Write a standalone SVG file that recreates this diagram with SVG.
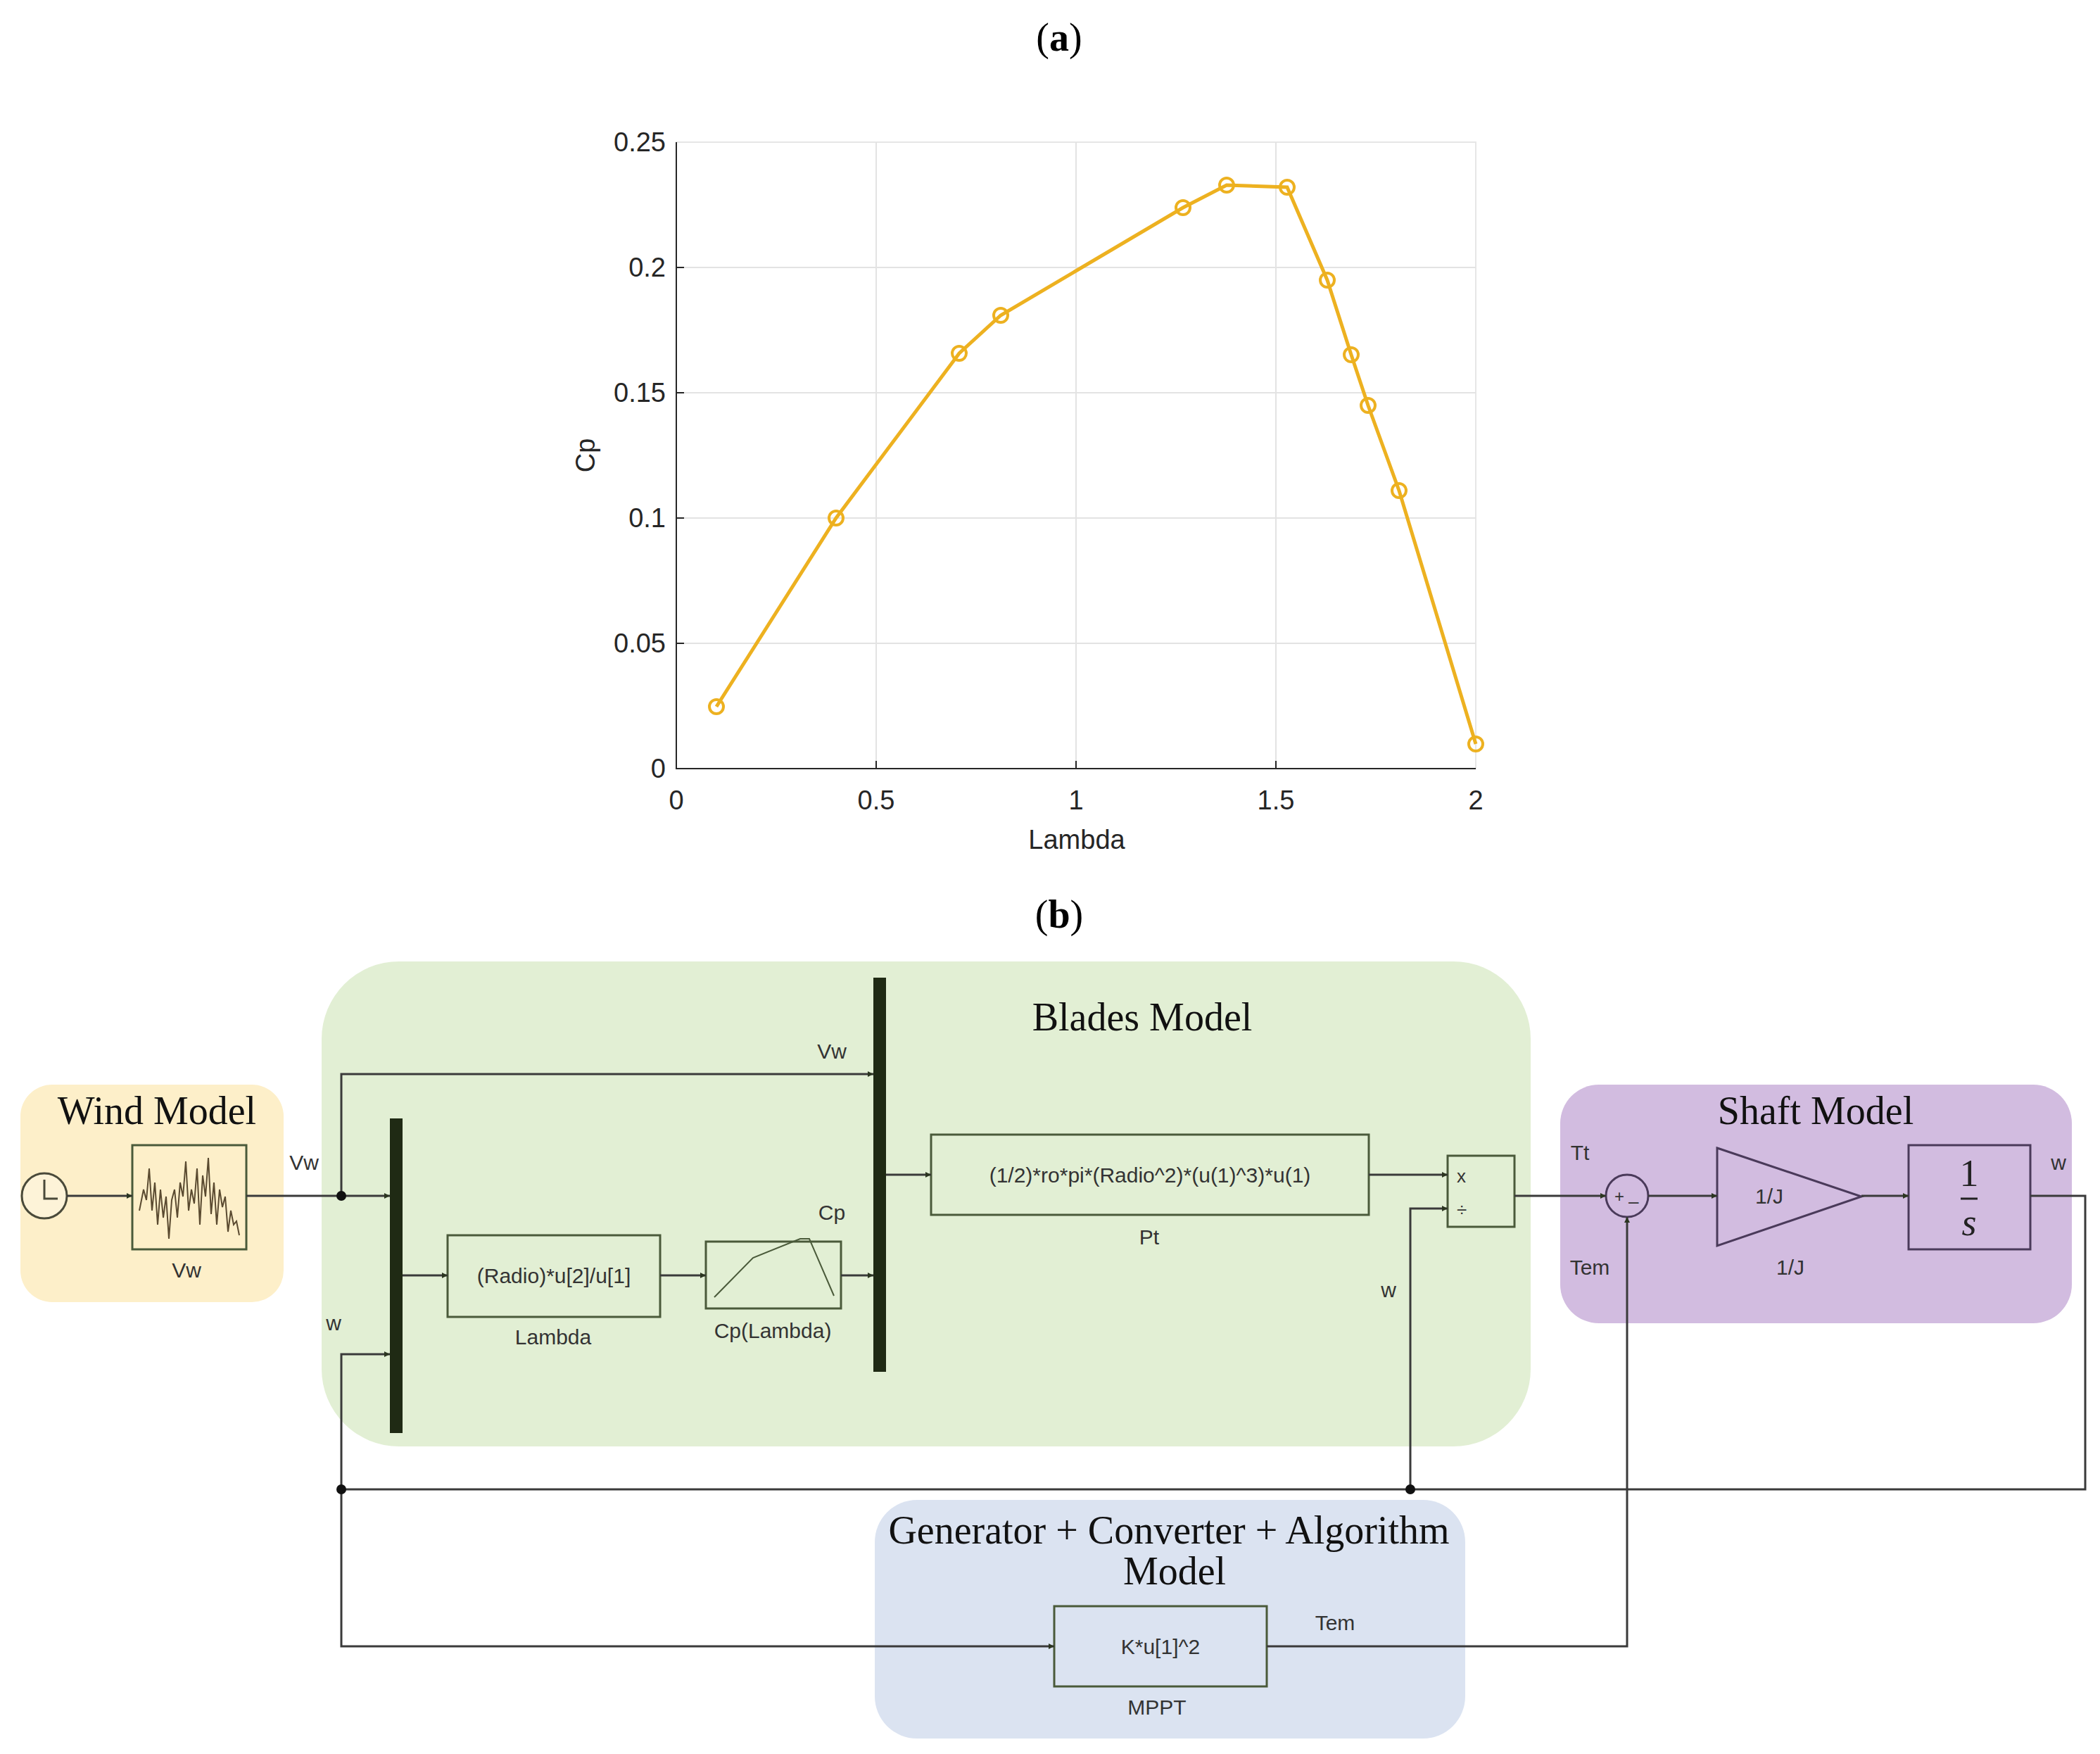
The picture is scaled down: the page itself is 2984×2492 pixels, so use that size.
<svg xmlns="http://www.w3.org/2000/svg" width="2984" height="2492" viewBox="0 0 2984 2492">
<style>
.t{font-family:"Liberation Sans",Arial,sans-serif;fill:#333}
.tick{font-family:"Liberation Sans",Arial,sans-serif;font-size:38px;fill:#262626}
.title{font-family:"Liberation Serif","Times New Roman",serif;font-size:56px;fill:#111}
.blk{fill:none;stroke:#4a5a3a;stroke-width:3}
.ln{fill:none;stroke:#3a3a3a;stroke-width:3}
.bus{fill:#1f2a14}
.grid{stroke:#e3e3e3;stroke-width:2}
</style>
<defs>
<marker id="ar" viewBox="0 0 10 10" refX="10" refY="5" markerWidth="8" markerHeight="8" markerUnits="userSpaceOnUse" orient="auto">
<path d="M0,0 L10,5 L0,10 z" fill="#2b3520"/>
</marker>
<marker id="a" viewBox="0 0 10 10" refX="10" refY="5" markerWidth="7" markerHeight="7" orient="auto">
<path d="M0,0 L10,5 L0,10 z" fill="#2b3520"/>
</marker>
</defs>
<rect width="2984" height="2492" fill="#fff"/>

<g id="chart">
<text x="1505" y="72" text-anchor="middle" style="font-family:'Liberation Serif',serif;font-size:56px;fill:#000"><tspan>(</tspan><tspan font-weight="bold">a</tspan><tspan>)</tspan></text>
<rect x="961" y="202" width="1136" height="890" fill="#fff" stroke="#e6e6e6" stroke-width="2"/>
<g class="grid">
<line x1="1245" y1="202" x2="1245" y2="1092"/><line x1="1529" y1="202" x2="1529" y2="1092"/><line x1="1813" y1="202" x2="1813" y2="1092"/>
<line x1="961" y1="914" x2="2097" y2="914"/><line x1="961" y1="736" x2="2097" y2="736"/><line x1="961" y1="558" x2="2097" y2="558"/><line x1="961" y1="380" x2="2097" y2="380"/>
</g>
<path d="M961,202 V1092 H2097" fill="none" stroke="#262626" stroke-width="2"/>
<g stroke="#262626" stroke-width="2">
<line x1="1245" y1="1092" x2="1245" y2="1081"/><line x1="1529" y1="1092" x2="1529" y2="1081"/><line x1="1813" y1="1092" x2="1813" y2="1081"/>
<line x1="961" y1="914" x2="972" y2="914"/><line x1="961" y1="736" x2="972" y2="736"/><line x1="961" y1="558" x2="972" y2="558"/><line x1="961" y1="380" x2="972" y2="380"/>
</g>
<g class="tick" text-anchor="end">
<text x="946" y="1105">0</text><text x="946" y="927">0.05</text><text x="946" y="749">0.1</text><text x="946" y="571">0.15</text><text x="946" y="393">0.2</text><text x="946" y="215">0.25</text>
</g>
<g class="tick" text-anchor="middle">
<text x="961" y="1150">0</text><text x="1245" y="1150">0.5</text><text x="1529" y="1150">1</text><text x="1813" y="1150">1.5</text><text x="2097" y="1150">2</text>
<text x="1530" y="1206">Lambda</text>
<text transform="translate(845,647) rotate(-90)">Cp</text>
</g>
<polyline fill="none" stroke="#EDB120" stroke-width="5" points="1018,1004 1188,736 1363,502 1422,448 1681,295 1743,263 1829,266 1886,398 1920,504 1944,576 1988,697 2097,1057"/>
<g fill="none" stroke="#EDB120" stroke-width="4">
<circle cx="1018" cy="1004" r="10"/><circle cx="1188" cy="736" r="10"/><circle cx="1363" cy="502" r="10"/><circle cx="1422" cy="448" r="10"/><circle cx="1681" cy="295" r="10"/><circle cx="1743" cy="263" r="10"/><circle cx="1829" cy="266" r="10"/><circle cx="1886" cy="398" r="10"/><circle cx="1920" cy="504" r="10"/><circle cx="1944" cy="576" r="10"/><circle cx="1988" cy="697" r="10"/><circle cx="2097" cy="1057" r="10"/>
</g>
</g>

<text x="1505" y="1318" text-anchor="middle" style="font-family:'Liberation Serif',serif;font-size:56px;fill:#000"><tspan>(</tspan><tspan font-weight="bold">b</tspan><tspan>)</tspan></text>

<g id="areas">
<rect x="457" y="1366" width="1718" height="689" rx="110" fill="#e2efd4"/>
<rect x="29" y="1541" width="374" height="309" rx="45" fill="#fdefc9"/>
<rect x="2217" y="1541" width="727" height="339" rx="55" fill="#d2bce0"/>
<rect x="1243" y="2131" width="839" height="339" rx="60" fill="#dbe3f1"/>
<text class="title" x="1623" y="1464" text-anchor="middle">Blades Model</text>
<text class="title" x="223" y="1597" text-anchor="middle">Wind Model</text>
<text class="title" x="2580" y="1597" text-anchor="middle">Shaft Model</text>
<text class="title" x="1661" y="2193" text-anchor="middle">Generator + Converter + Algorithm</text>
<text class="title" x="1669" y="2251" text-anchor="middle">Model</text>
</g>

<g id="clock">
<circle cx="63" cy="1699" r="32" fill="#fdf3d8" stroke="#4a4a3a" stroke-width="3"/>
<path d="M63,1676 V1703 H82" fill="none" stroke="#4a4a3a" stroke-width="3"/>
</g>
<g id="scope">
<rect x="188" y="1627" width="162" height="148" fill="#fdf3d8" class="blk"/>
<polyline fill="none" stroke="#5a4a30" stroke-width="2" points="198,1720 204,1690 208,1705 212,1660 216,1720 220,1680 224,1740 228,1690 232,1730 236,1700 240,1760 244,1705 248,1690 252,1730 256,1680 260,1700 264,1650 268,1720 272,1690 276,1710 280,1660 284,1740 288,1670 292,1700 296,1645 300,1725 304,1680 308,1740 312,1690 316,1715 320,1700 324,1750 328,1720 332,1740 336,1735 340,1755"/>
<text class="t" x="265" y="1815" font-size="30" text-anchor="middle">Vw</text>
</g>
<g id="bus1"><rect class="bus" x="554" y="1589" width="18" height="447"/></g>
<g id="bus2"><rect class="bus" x="1241" y="1389" width="18" height="560"/></g>
<g id="lambda">
<rect class="blk" x="636" y="1755" width="302" height="116"/>
<text class="t" x="787" y="1823" font-size="30" text-anchor="middle">(Radio)*u[2]/u[1]</text>
<text class="t" x="786" y="1910" font-size="30" text-anchor="middle">Lambda</text>
</g>
<g id="cplambda">
<rect class="blk" x="1003" y="1764" width="192" height="95"/>
<polyline fill="none" stroke="#4a5a3a" stroke-width="2" points="1015,1843 1070,1787 1137,1760 1150,1760 1185,1841"/>
<text class="t" x="1098" y="1901" font-size="30" text-anchor="middle">Cp(Lambda)</text>
</g>
<g id="pt">
<rect class="blk" x="1323" y="1612" width="622" height="114"/>
<text class="t" x="1634" y="1680" font-size="30" text-anchor="middle">(1/2)*ro*pi*(Radio^2)*(u(1)^3)*u(1)</text>
<text class="t" x="1633" y="1768" font-size="30" text-anchor="middle">Pt</text>
</g>
<g id="divide">
<rect class="blk" x="2057" y="1642" width="95" height="101"/>
<text class="t" x="2070" y="1680" font-size="26">x</text>
<text class="t" x="2070" y="1728" font-size="26">÷</text>
</g>
<g id="sum">
<circle cx="2312" cy="1699" r="30" fill="none" stroke="#4a3a5a" stroke-width="3"/>
<text class="t" x="2294" y="1708" font-size="24">+</text>
<text class="t" x="2314" y="1716" font-size="26">–</text>
</g>
<g id="gain">
<polygon points="2440,1631 2645,1700 2440,1770" fill="none" stroke="#4a3a5a" stroke-width="3"/>
<text class="t" x="2514" y="1710" font-size="30" text-anchor="middle">1/J</text>
<text class="t" x="2544" y="1811" font-size="30" text-anchor="middle">1/J</text>
</g>
<g id="integrator">
<rect x="2712" y="1627" width="173" height="148" fill="none" stroke="#4a3a5a" stroke-width="3"/>
<text x="2798" y="1685" text-anchor="middle" style="font-family:'Liberation Serif',serif;font-size:54px;fill:#222">1</text>
<line x1="2786" y1="1703" x2="2810" y2="1703" stroke="#222" stroke-width="3"/>
<text x="2798" y="1755" text-anchor="middle" style="font-family:'Liberation Serif',serif;font-size:54px;font-style:italic;fill:#222">s</text>
</g>
<g id="mppt">
<rect class="blk" x="1498" y="2282" width="302" height="114"/>
<text class="t" x="1649" y="2350" font-size="30" text-anchor="middle">K*u[1]^2</text>
<text class="t" x="1644" y="2436" font-size="30" text-anchor="middle">MPPT</text>
</g>

<g id="connectors" class="ln">
<line x1="95" y1="1699" x2="188" y2="1699" marker-end="url(#ar)"/>
<line x1="350" y1="1699" x2="485" y2="1699"/>
<line x1="485" y1="1699" x2="554" y2="1699" marker-end="url(#ar)"/>
<polyline points="485,1699 485,1526 1241,1526" marker-end="url(#ar)"/>
<polyline points="485,2116 485,1924 554,1924" marker-end="url(#ar)"/>
<line x1="572" y1="1812" x2="636" y2="1812" marker-end="url(#ar)"/>
<line x1="938" y1="1812" x2="1003" y2="1812" marker-end="url(#ar)"/>
<line x1="1195" y1="1812" x2="1241" y2="1812" marker-end="url(#ar)"/>
<line x1="1259" y1="1669" x2="1323" y2="1669" marker-end="url(#ar)"/>
<line x1="1945" y1="1669" x2="2057" y2="1669" marker-end="url(#ar)"/>
<polyline points="2004,2116 2004,1717 2057,1717" marker-end="url(#ar)"/>
<line x1="2152" y1="1699" x2="2282" y2="1699" marker-end="url(#ar)"/>
<line x1="2342" y1="1699" x2="2440" y2="1699" marker-end="url(#ar)"/>
<line x1="2645" y1="1699" x2="2712" y2="1699" marker-end="url(#ar)"/>
<polyline points="2885,1699 2963,1699 2963,2116 485,2116"/>
<polyline points="485,2116 485,2339 1498,2339" marker-end="url(#ar)"/>
<polyline points="1800,2339 2312,2339 2312,1729" marker-end="url(#ar)"/>
<circle cx="485" cy="1699" r="7" fill="#111" stroke="none"/>
<circle cx="485" cy="2116" r="7" fill="#111" stroke="none"/>
<circle cx="2004" cy="2116" r="7" fill="#111" stroke="none"/>
</g>
<g id="labels" class="t" font-size="30">
<text x="432" y="1662" text-anchor="middle">Vw</text>
<text x="1182" y="1504" text-anchor="middle">Vw</text>
<text x="474" y="1890" text-anchor="middle">w</text>
<text x="1182" y="1733" text-anchor="middle">Cp</text>
<text x="1973" y="1843" text-anchor="middle">w</text>
<text x="2245" y="1648" text-anchor="middle">Tt</text>
<text x="2259" y="1811" text-anchor="middle">Tem</text>
<text x="2925" y="1662" text-anchor="middle">w</text>
<text x="1897" y="2316" text-anchor="middle">Tem</text>
</g>
</svg>
